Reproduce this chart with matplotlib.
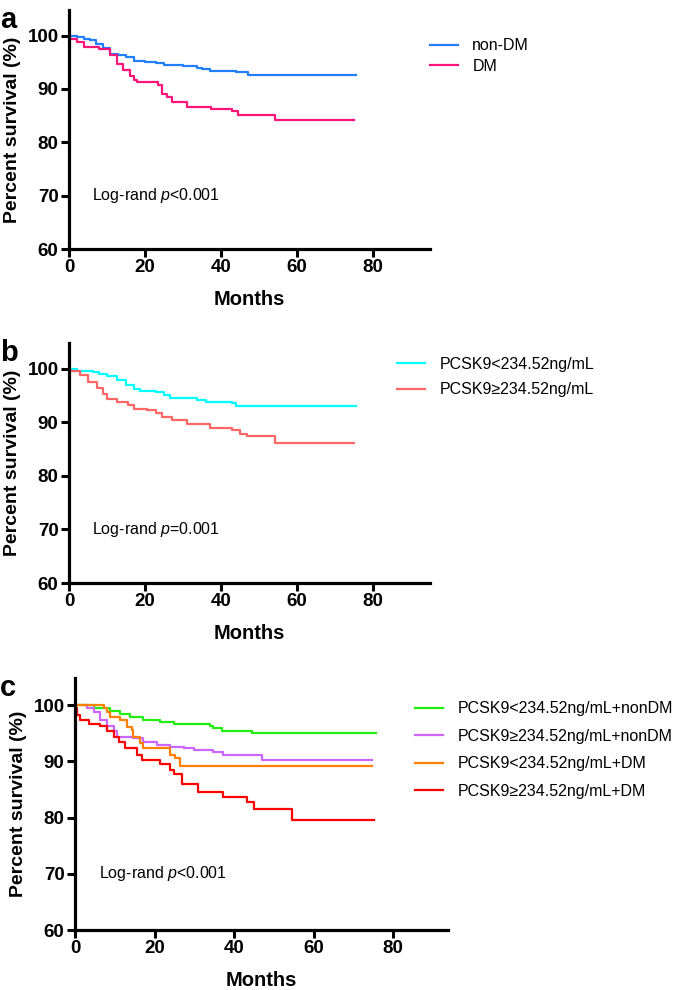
import matplotlib
matplotlib.use("Agg")
import matplotlib.pyplot as plt

plt.rcParams['font.family'] = ['Liberation Sans', 'DejaVu Sans']
plt.rcParams['mathtext.fontset'] = 'custom'
plt.rcParams['mathtext.rm'] = 'Liberation Sans'
plt.rcParams['mathtext.it'] = 'Liberation Sans:italic'

# panel a
nondm_t = [0, 2, 4, 5.5, 7, 9, 10.8, 13, 15, 17, 20, 23, 25, 30, 33.6, 35, 37, 44, 47, 75.5]
nondm_s = [100, 99.7, 99.4, 99.1, 98.5, 97.6, 96.6, 96.3, 95.9, 95.3, 95.0, 94.8, 94.5, 94.3, 94.0, 93.8, 93.4, 93.1, 92.7, 92.7]
dm_t = [0, 2, 4, 8, 10.8, 12.5, 14.3, 16, 17, 18, 23.5, 24.4, 25.7, 27, 31, 37.5, 43, 44.6, 54.2, 74.9]
dm_s = [99.4, 98.8, 97.8, 97.5, 96.3, 94.7, 93.5, 92.5, 91.6, 91.3, 90.7, 89.1, 88.5, 87.5, 86.7, 86.3, 85.9, 85.2, 84.2, 84.2]

# panel b
low_t = [0, 2, 6.4, 8, 10, 12.5, 15, 17, 18.7, 23, 25, 26.6, 33.6, 36, 43, 44, 75.5]
low_s = [100, 99.6, 99.4, 99.1, 98.7, 97.9, 97.0, 96.3, 95.8, 95.6, 95.1, 94.5, 94.2, 93.7, 93.6, 93.1, 93.1]
high_t = [0, 3, 5, 7.3, 9, 10, 12.5, 15.6, 17, 20.4, 23, 24.4, 27, 31, 37, 43, 45, 46.8, 54.2, 74.9]
high_s = [99.6, 98.9, 97.6, 96.4, 95.3, 94.3, 93.7, 93.3, 92.5, 92.3, 91.7, 91.0, 90.5, 89.7, 88.9, 88.5, 87.9, 87.4, 86.2, 86.2]

# panel c
g1_t = [0, 4.7, 8.9, 11.4, 13.9, 17.2, 21.4, 24.8, 34, 34.8, 36.9, 44.4, 75.6]
g1_s = [100, 99.4, 99.0, 98.4, 97.9, 97.3, 97.0, 96.7, 96.3, 95.9, 95.4, 95.0, 95.0]
g2_t = [0, 3, 4.7, 6.4, 8, 9.7, 10.5, 14.7, 17.2, 20.6, 24, 27.3, 29.8, 34.8, 37.3, 47, 74.8]
g2_s = [100, 99.4, 98.8, 97.3, 96.3, 95.3, 94.3, 94.1, 93.5, 92.9, 92.6, 92.3, 92.0, 91.6, 91.1, 90.2, 90.2]
g3_t = [0, 7.2, 8, 8.9, 11.4, 13, 14.3, 14.7, 16.4, 17.2, 24, 25.2, 26.4, 74.8]
g3_s = [100, 99.4, 98.8, 97.9, 97.3, 96.1, 95.6, 94.3, 93.2, 92.3, 91.1, 90.5, 89.2, 89.2]
g4_t = [0, 0.5, 1.3, 3.4, 6.4, 8, 9.7, 11, 12.6, 15.6, 16.8, 21.4, 24, 24.8, 26.9, 31, 37.3, 43.2, 44.9, 54.5, 75.1]
g4_s = [99.4, 98.2, 97.3, 96.6, 96.3, 95.4, 94.4, 93.5, 92.3, 91.1, 90.2, 89.6, 88.4, 87.7, 85.9, 84.6, 83.7, 82.8, 81.6, 79.6, 79.6]

labels_a = ['non-DM', 'DM']
labels_b = ['PCSK9<234.52ng/mL', 'PCSK9≥234.52ng/mL']
labels_c = ['PCSK9<234.52ng/mL+nonDM', 'PCSK9≥234.52ng/mL+nonDM',
            'PCSK9<234.52ng/mL+DM', 'PCSK9≥234.52ng/mL+DM']
pvals = ['Log-rand $\\it{p}$<0.001', 'Log-rand $\\it{p}$=0.001', 'Log-rand $\\it{p}$<0.001']

W, H = 685, 990
fig = plt.figure(figsize=(W / 100, H / 100), dpi=100)


def px_axes(l, t, r, b):
    return fig.add_axes([l / W, 1 - b / H, (r - l) / W, (b - t) / H])


def style(ax, xmax):
    ax.set_xlim(0, xmax)
    ax.set_ylim(60, 104.8)
    ax.set_xticks([0, 20, 40, 60, 80])
    ax.set_yticks([60, 70, 80, 90, 100])
    for s in ['top', 'right']:
        ax.spines[s].set_visible(False)
    for s in ['left', 'bottom']:
        ax.spines[s].set_linewidth(2.3)
    ax.tick_params(width=2.2, length=5.5, labelsize=13.5, pad=2)
    for lab in ax.get_xticklabels() + ax.get_yticklabels():
        lab.set_fontweight('bold')
    ax.set_xlabel('Months', fontsize=14.5, fontweight='bold', labelpad=10)
    ax.set_ylabel('Percent survival (%)', fontsize=14, fontweight='bold', labelpad=5)


panels = [
    (px_axes(69, 10, 430, 249), 95, [(nondm_t, nondm_s, '#1f7fff'), (dm_t, dm_s, '#ff1478')],
     labels_a, 'a', 430, 56, 0.35),
    (px_axes(69, 343, 430, 583), 95, [(low_t, low_s, '#00ffff'), (high_t, high_s, '#ff6666')],
     labels_b, 'b', 397, 377, 0.65),
    (px_axes(75, 678, 448, 930), 93.8, [(g1_t, g1_s, '#22ee11'), (g2_t, g2_s, '#cc66ff'),
                                        (g3_t, g3_s, '#ff8000'), (g4_t, g4_s, '#ff0000')],
     labels_c, 'c', 415, 750, 0.78),
]

for i, (ax, xmax, series, labels, letter, lx, ly, lsp) in enumerate(panels):
    lines = []
    for (t, s, c), lab in zip(series, labels):
        ln, = ax.plot(t, s, drawstyle='steps-post', color=c, lw=1.6, label=lab)
        lines.append(ln)
    style(ax, xmax)
    ax.text(6, 70, pvals[i], fontsize=11.5, va='center', ha='left')
    ax.legend(handles=lines, loc='center left', bbox_to_anchor=(lx / W, 1 - ly / H),
              bbox_transform=fig.transFigure, frameon=False, fontsize=11.5,
              handlelength=1.75, handletextpad=0.9, labelspacing=lsp,
              borderpad=0, borderaxespad=0)
    bb = ax.get_position()
    fig.text(0.0, bb.y1 + 4 / H, letter, fontsize=21, fontweight='bold', ha='left', va='top')

fig.savefig('out.png', dpi=100)
